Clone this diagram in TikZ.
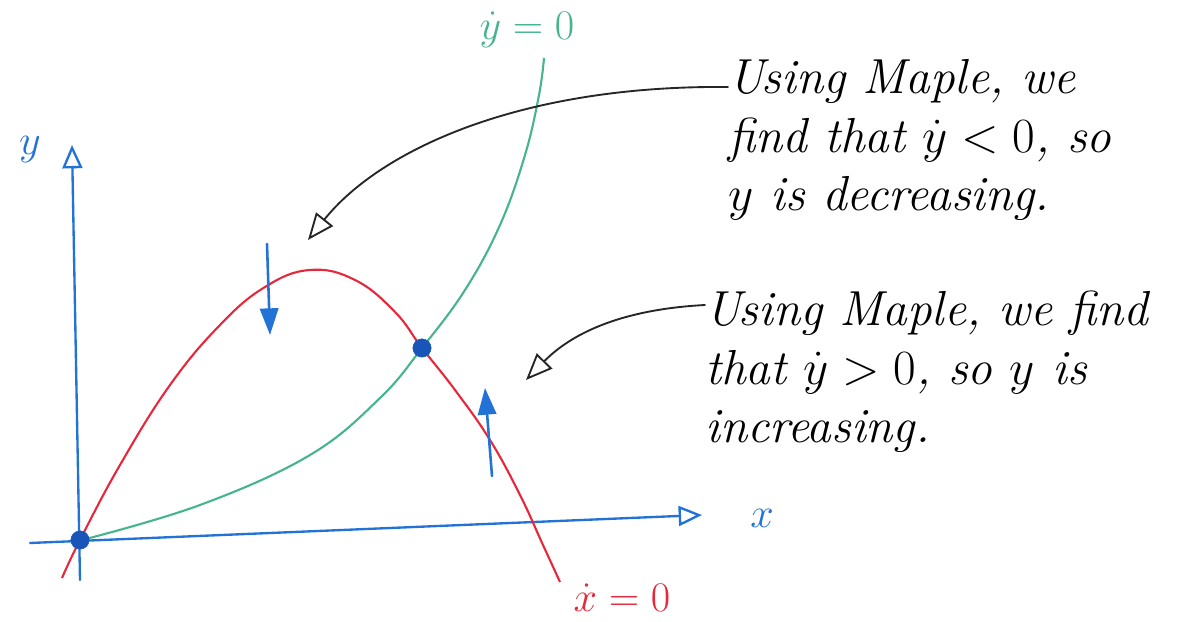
\RequirePackage{fix-cm}
\documentclass[tikz,border=0pt]{standalone}
\usetikzlibrary{arrows.meta}
\definecolor{axblue}{RGB}{35,115,215}
\definecolor{dotblue}{RGB}{25,85,185}
\definecolor{cred}{RGB}{230,40,60}
\definecolor{cgreen}{RGB}{70,180,140}
\tikzset{
  axis/.style={axblue, line width=2pt, line cap=round},
  axtip/.style={-{Triangle[open,length=0.7cm,width=0.6cm,line width=2pt]}},
  flowarrow/.style={axblue, line width=2.2pt, line cap=round, -{Triangle[length=0.8cm,width=0.55cm]}},
  pointer/.style={black!85, line width=1.6pt, line cap=round, -{Triangle[open,length=0.8cm,width=0.65cm,line width=1.6pt]}},
  nullx/.style={cred, line width=1.8pt},
  nully/.style={cgreen, line width=1.8pt},
  eqdot/.style={circle, fill=dotblue, draw=dotblue, inner sep=0pt, minimum size=0.55cm},
  note/.style={align=left, anchor=west, inner sep=0pt, font=\fontsize{42}{50}\selectfont\itshape},
  curvelabel/.style={inner sep=0pt, font=\fontsize{36}{42}\selectfont}
}
\begin{document}
\begin{tikzpicture}[x=0.03cm,y=-0.03cm]
\useasboundingbox (0,0) rectangle (1179,622);
% axes
\coordinate (ybot) at (80,580);
\coordinate (ytop) at (72,145);
\coordinate (xleft) at (30,543);
\coordinate (xright) at (702,515);
\draw[axis,axtip] (ybot) -- (ytop);
\draw[axis,axtip] (xleft) -- (xright);
\node[curvelabel, text=axblue] (ylab) at (30,150) {$y$};
\node[curvelabel, text=axblue] (xlab) at (762,518) {$x$};
% nullclines
\draw[nully] plot[smooth, tension=0.65] coordinates {(82,540) (200,505) (310,455) (380,398) (422,348) (465,290) (500,225) (525,155) (539,95) (544,58)};
\draw[nullx] plot[smooth, tension=0.7] coordinates {(62,578) (80,540) (120,465) (170,385) (220,325) (265,287) (310,270) (355,280) (395,312) (422,348) (455,390) (490,440) (520,495) (543,545) (560,582)};
\node[curvelabel, text=cgreen] (ydotlab) at (527,30) {$\dot{y}=0$};
\node[curvelabel, text=cred] (xdotlab) at (622,598) {$\dot{x}=0$};
% equilibria
\node[eqdot] (eq0) at (80,540) {};
\node[eqdot] (eq1) at (422,348) {};
% flow arrows
\coordinate (d0) at (267,244);
\coordinate (d1) at (270,335);
\coordinate (u0) at (492,476);
\coordinate (u1) at (485,388);
\draw[flowarrow] (d0) -- (d1);
\draw[flowarrow] (u0) -- (u1);
% notes
\node[note] (note1) at (728,140) {Using Maple, we\\find that $\dot{y}<0$, so\\$y$ is decreasing.};
\node[note] (note2) at (705,372) {Using Maple, we find\\that $\dot{y}>0$, so $y$ is\\increasing.};
\coordinate (p1) at (308,240);
\coordinate (p2) at (526,380);
\draw[pointer] (note1.west |- 0,87) .. controls (520,85) and (380,150) .. (p1);
\draw[pointer] (note2.west |- 0,305) .. controls (610,310) and (565,340) .. (p2);
\end{tikzpicture}
\end{document}
